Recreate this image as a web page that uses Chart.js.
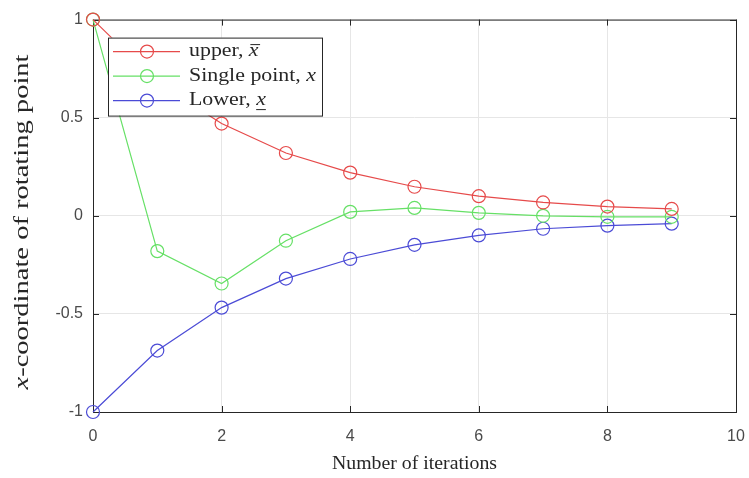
<!DOCTYPE html>
<html>
<head>
<meta charset="utf-8">
<script src="https://cdn.jsdelivr.net/npm/chart.js@4"></script>
<style>
  body { margin: 0; background: #fff; }
  #wrap { width: 749px; height: 478px; }
</style>
</head>
<body>
<div id="wrap"><canvas id="myChart" width="749" height="478"></canvas></div>
<script>
// data
const iterations = [0, 1, 2, 3, 4, 5, 6, 7, 8, 9];
const upper = [1, 0.68, 0.47, 0.32, 0.22, 0.148, 0.10, 0.068, 0.047, 0.035];
const single = [1, -0.18, -0.345, -0.127, 0.02, 0.04, 0.015, 0.0, -0.005, -0.005];
const lower = [-1, -0.687, -0.468, -0.32, -0.22, -0.148, -0.10, -0.066, -0.05, -0.04];
const xTicks = [0, 2, 4, 6, 8, 10];
const yTicks = [-1, -0.5, 0, 0.5, 1];

const seriesNames = ["upper, ", "Single point, ", "Lower, "];
const seriesMarks = ["over", "none", "under"]; // decoration on the italic x
const colors = ["#e64a4a", "#66e066", "#4b4bd6"];

const serif = '"Liberation Serif", "DejaVu Serif", serif';
const sans = '"Liberation Sans", Arial, sans-serif';

function toPoints(ys) {
  return iterations.map((x, i) => ({ x: x, y: ys[i] }));
}

function makeSet(label, ys, color) {
  return {
    label: label,
    data: toPoints(ys),
    borderColor: color,
    backgroundColor: "transparent",
    borderWidth: 1.2,
    pointRadius: 6.5,
    pointHoverRadius: 6.5,
    pointBorderWidth: 1.2,
    pointBackgroundColor: "transparent",
    pointBorderColor: color,
    tension: 0,
    clip: false,
  };
}

// draws [text, italic] runs starting at 0,0 stretched sideways by sx
// (latex fonts are wider than Times), returns x positions of each run
function drawRuns(ctx, runs, size, sx) {
  const xs = [];
  let x = 0;
  ctx.save();
  ctx.scale(sx, 1);
  runs.forEach(([t, it]) => {
    ctx.font = (it ? "italic " : "") + size + "px " + serif;
    xs.push([x * sx, (x + ctx.measureText(t).width) * sx]);
    ctx.fillText(t, x, 0);
    x += ctx.measureText(t).width;
  });
  ctx.restore();
  return xs;
}

function runsWidth(ctx, runs, size) {
  let w = 0;
  runs.forEach(([t, it]) => {
    ctx.font = (it ? "italic " : "") + size + "px " + serif;
    w += ctx.measureText(t).width;
  });
  return w;
}

// box round the axes + inner ticks, matlab style
const boxPlugin = {
  id: "box",
  beforeDatasetsDraw(chart) {
    const { ctx, chartArea: a, scales } = chart;
    ctx.save();
    ctx.strokeStyle = "#262626";
    ctx.lineWidth = 1;
    ctx.strokeRect(a.left + 0.5, a.top + 0.5, a.right - a.left, a.bottom - a.top);
    ctx.beginPath();
    xTicks.forEach((t) => {
      const px = Math.round(scales.x.getPixelForValue(t)) + 0.5;
      ctx.moveTo(px, a.bottom); ctx.lineTo(px, a.bottom - 6);
      ctx.moveTo(px, a.top); ctx.lineTo(px, a.top + 6);
    });
    yTicks.forEach((t) => {
      const py = Math.round(scales.y.getPixelForValue(t)) + 0.5;
      ctx.moveTo(a.left, py); ctx.lineTo(a.left + 6, py);
      ctx.moveTo(a.right, py); ctx.lineTo(a.right - 6, py);
    });
    ctx.stroke();
    ctx.restore();
  },
};

// axis titles with an italic x, drawn by hand
const titlePlugin = {
  id: "titles",
  afterDraw(chart) {
    const { ctx, chartArea: a } = chart;
    ctx.save();
    ctx.fillStyle = "#262626";
    ctx.textAlign = "left";
    ctx.textBaseline = "middle";
    // x title
    const xRuns = [["Number of iterations", false]];
    const xs = 165 / runsWidth(ctx, xRuns, 19);
    ctx.save();
    ctx.translate((a.left + a.right) / 2 - 82.5, 464);
    drawRuns(ctx, xRuns, 19, xs);
    ctx.restore();
    // y title
    const yRuns = [["x", true], ["-coordinate of rotating point", false]];
    const ys = 335 / runsWidth(ctx, yRuns, 22);
    ctx.translate(22, 222);
    ctx.rotate(-Math.PI / 2);
    ctx.translate(-167.5, 0);
    drawRuns(ctx, yRuns, 22, ys);
    ctx.restore();
  },
};

// legend box inside the axes
const legendPlugin = {
  id: "boxLegend",
  afterDatasetsDraw(chart) {
    const { ctx, chartArea: a } = chart;
    const left = a.left + 15, top = a.top + 18, w = 214, h = 78;
    ctx.save();
    ctx.fillStyle = "#fff";
    ctx.fillRect(left, top, w, h);
    ctx.strokeStyle = "#262626";
    ctx.lineWidth = 1;
    ctx.strokeRect(left + 0.5, top + 0.5, w, h);
    const sx = 127 / runsWidth(ctx, [["Single point, ", false], ["x", true]], 18);
    seriesNames.forEach((name, i) => {
      const y = top + 14 + i * 24.5;
      ctx.strokeStyle = colors[i];
      ctx.lineWidth = 1.2;
      ctx.beginPath();
      ctx.moveTo(left + 5, y); ctx.lineTo(left + 72, y);
      ctx.stroke();
      ctx.beginPath();
      ctx.arc(left + 39, y, 6.5, 0, Math.PI * 2);
      ctx.stroke();
      ctx.fillStyle = "#262626";
      ctx.textBaseline = "middle";
      ctx.textAlign = "left";
      ctx.save();
      ctx.translate(left + 81, y);
      const pos = drawRuns(ctx, [[name, false], ["x", true]], 18, sx);
      const [x0, x1] = pos[1];
      ctx.strokeStyle = "#262626";
      ctx.lineWidth = 1;
      if (seriesMarks[i] === "over") {
        ctx.beginPath();
        ctx.moveTo(x0 + 1.5, -7); ctx.lineTo(x1 + 1.5, -7);
        ctx.stroke();
      } else if (seriesMarks[i] === "under") {
        ctx.beginPath();
        ctx.moveTo(x0, 9); ctx.lineTo(x1, 9);
        ctx.stroke();
      }
      ctx.restore();
    });
    ctx.restore();
  },
};

let myChart = document.getElementById("myChart").getContext("2d");
let rotChart = new Chart(myChart, {
  type: "line",
  data: {
    datasets: [
      makeSet("upper", upper, colors[0]),
      makeSet("Single point", single, colors[1]),
      makeSet("Lower", lower, colors[2]),
    ],
  },
  options: {
    responsive: false,
    animation: false,
    events: [],
    layout: { autoPadding: false, padding: { top: 19, right: 13, left: 0, bottom: 0 } },
    plugins: {
      legend: { display: false },
      tooltip: { enabled: false },
    },
    scales: {
      x: {
        type: "linear",
        min: 0,
        max: 10,
        afterBuildTicks: (s) => { s.ticks = xTicks.map((v) => ({ value: v })); },
        ticks: { color: "#4a4a4a", font: { size: 16, family: sans }, padding: 4, maxRotation: 0 },
        grid: { color: "#e6e6e6", drawTicks: true, tickLength: 11, tickColor: "transparent" },
        border: { display: false },
        afterFit: (s) => { s.height = 66; },
      },
      y: {
        min: -1,
        max: 1,
        afterBuildTicks: (s) => { s.ticks = yTicks.map((v) => ({ value: v })); },
        ticks: { color: "#4a4a4a", font: { size: 16, family: sans }, padding: 10,
          callback: (v) => String(v) },
        grid: { color: "#e6e6e6", drawTicks: false },
        border: { display: false },
        afterFit: (s) => { s.width = 93; },
      },
    },
  },
  plugins: [legendPlugin, boxPlugin, titlePlugin],
});
</script>
</body>
</html>
